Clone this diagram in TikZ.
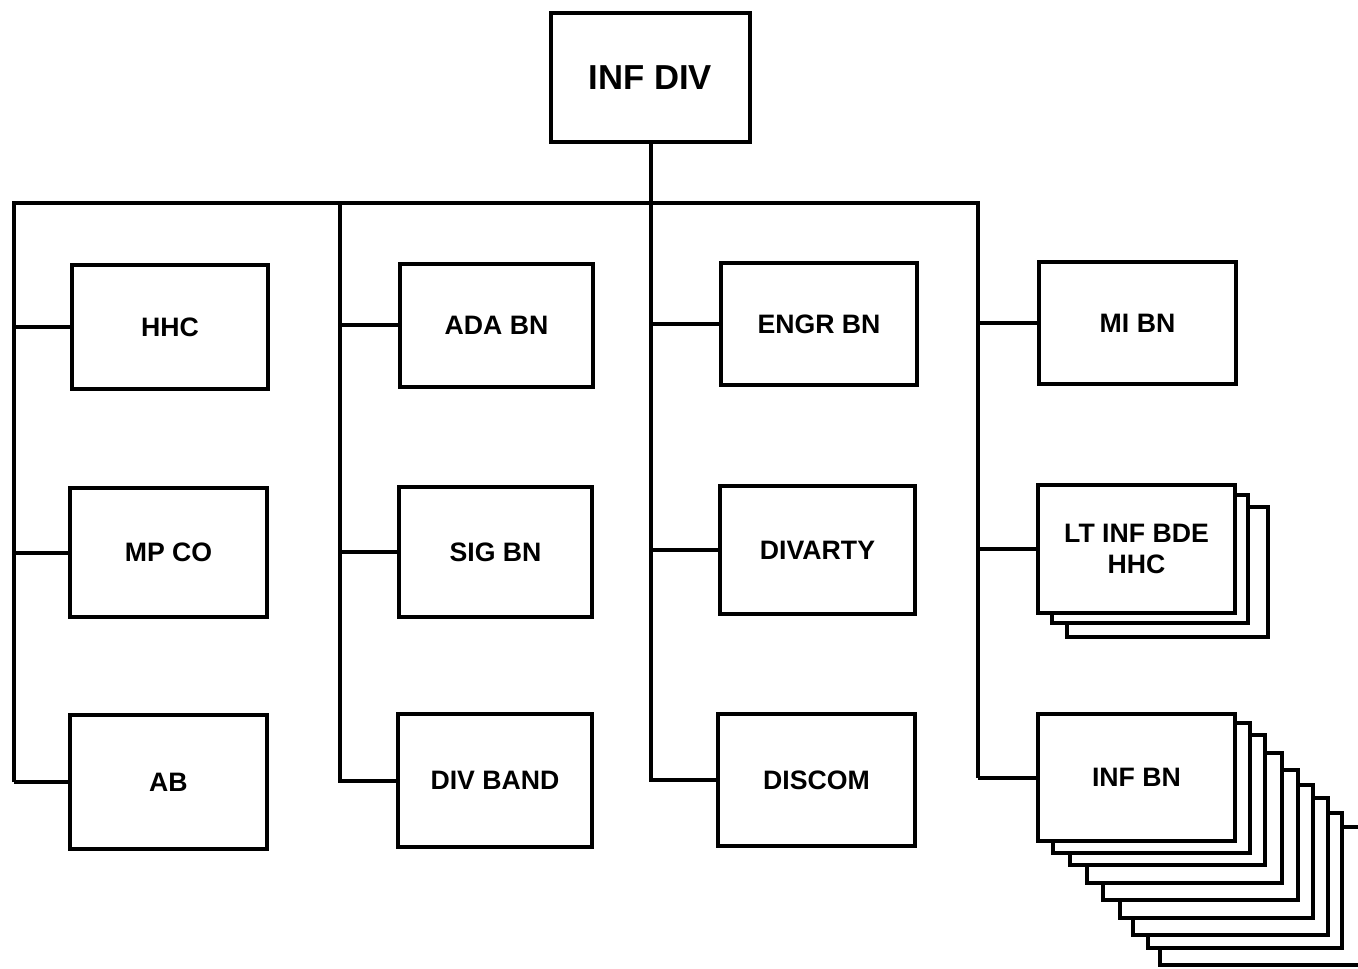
\documentclass[tikz,border=0pt]{standalone}
\usepackage{fontspec}
\setmainfont{Liberation Sans}
\begin{document}
\begin{tikzpicture}[x=0.75pt,y=0.75pt,
  box/.style={draw=black, line width=3pt, fill=white, inner sep=0pt, align=center,
    font=\bfseries\fontsize{20}{23}\selectfont},
  sh/.style={draw=black, line width=2.6pt, fill=white},
  link/.style={draw=black, line width=3pt}]
\useasboundingbox (0,0) rectangle (1358,-969);
\clip (0,0) rectangle (1358,-969);
\fill[white] (0,0) rectangle (1358,-969);
\newcommand{\bx}[6]{\node[box, minimum width={(#4-#2)*0.75pt}, minimum height={(#5-#3)*0.75pt}]
  (#1) at ({(#2+#4)/2},{-(#3+#5)/2}) {#6};}
\newcommand{\shb}[4]{\path[sh] (#1,-#2) rectangle (#3,-#4);}
% stacked shadows (back to front)
\shb{1160}{827}{1375}{965}
\shb{1148}{813}{1342}{948}
\shb{1133}{798}{1328}{935}
\shb{1120}{785}{1313}{918}
\shb{1103}{770}{1298}{900}
\shb{1087}{753}{1282}{883}
\shb{1070}{735}{1265}{865}
\shb{1053}{723}{1250}{853}
\shb{1067}{507}{1268}{637}
\shb{1052}{495}{1248}{623}
% main boxes
\bx{infdiv}{551}{13}{750}{142}{\fontsize{26}{30}\selectfont INF DIV}
\bx{hhc}{72}{265}{268}{389}{HHC}
\bx{mpco}{70}{488}{267}{617}{MP CO}
\bx{ab}{70}{715}{267}{849}{AB}
\bx{adabn}{400}{264}{593}{387}{ADA BN}
\bx{sigbn}{399}{487}{592}{617}{SIG BN}
\bx{divband}{398}{714}{592}{847}{DIV BAND}
\bx{engrbn}{721}{263}{917}{385}{ENGR BN}
\bx{divarty}{720}{486}{915}{614}{DIVARTY}
\bx{discom}{718}{714}{915}{846}{DISCOM}
\bx{mibn}{1039}{262}{1236}{384}{MI BN}
\bx{ltinf}{1038}{485}{1235}{613}{LT INF BDE\\HHC}
\bx{infbn}{1038}{714}{1235}{841}{INF BN}
% bus and spines
\coordinate (busL) at (14,-203);
\coordinate (busR) at (978,-203);
\coordinate (c2) at (340,-203);
\draw[link] (busL |- ab.west) -- (busL) -- (busR) -- (busR |- infbn.west);
\draw[link] (c2) -- (c2 |- divband.west) -- (divband.west);
\draw[link] (infdiv.south) -- (infdiv.south |- discom.west) -- (discom.west);
\draw[link] (busL |- ab.west) -- (ab.west);
\draw[link] (busL |- hhc.west) -- (hhc.west);
\draw[link] (busL |- mpco.west) -- (mpco.west);
\draw[link] (c2 |- adabn.west) -- (adabn.west);
\draw[link] (c2 |- sigbn.west) -- (sigbn.west);
\draw[link] (infdiv.south |- engrbn.west) -- (engrbn.west);
\draw[link] (infdiv.south |- divarty.west) -- (divarty.west);
\draw[link] (busR |- mibn.west) -- (mibn.west);
\draw[link] (busR |- ltinf.west) -- (ltinf.west);
\draw[link] (busR |- infbn.west) -- (infbn.west);
\end{tikzpicture}
\end{document}
